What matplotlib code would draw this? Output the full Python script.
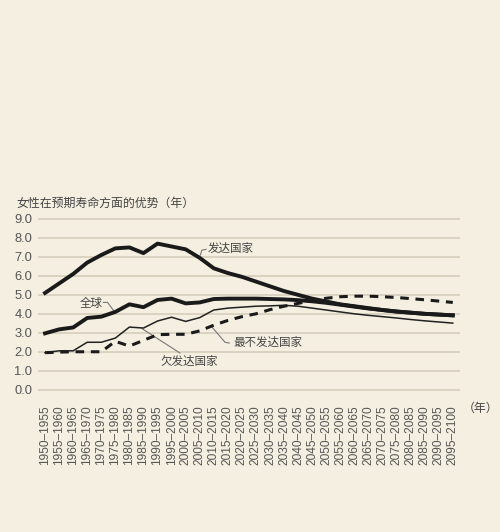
import numpy as np
import matplotlib.pyplot as plt

plt.rcParams['font.family'] = ['Liberation Sans', 'Noto Sans CJK SC', 'DejaVu Sans']

# 时间段
periods = [f"{y}–{y + 5}" for y in range(1950, 2100, 5)]

# 女性预期寿命优势（年）
developed = [5.1, 5.6, 6.1, 6.7, 7.1, 7.45, 7.5, 7.2, 7.7, 7.55,
             7.4, 6.95, 6.4, 6.15, 5.95, 5.7, 5.45, 5.2, 5.0, 4.8,
             4.65, 4.5, 4.4, 4.3, 4.2, 4.12, 4.06, 4.0, 3.96, 3.92]
world = [2.97, 3.18, 3.28, 3.78, 3.85, 4.1, 4.5, 4.35, 4.73, 4.8,
         4.55, 4.6, 4.78, 4.8, 4.8, 4.8, 4.78, 4.76, 4.72, 4.66,
         4.58, 4.48, 4.38, 4.28, 4.2, 4.12, 4.06, 4.0, 3.96, 3.92]
less_dev = [1.95, 2.05, 2.05, 2.5, 2.5, 2.72, 3.3, 3.25, 3.62, 3.82,
            3.6, 3.8, 4.2, 4.3, 4.35, 4.4, 4.42, 4.45, 4.4, 4.3,
            4.2, 4.1, 4.0, 3.92, 3.85, 3.78, 3.7, 3.63, 3.57, 3.51]
least_dev = [1.95, 1.98, 2.0, 2.0, 2.0, 2.55, 2.3, 2.6, 2.9, 2.92,
             2.92, 3.1, 3.4, 3.65, 3.85, 4.0, 4.22, 4.4, 4.55, 4.7,
             4.82, 4.9, 4.93, 4.93, 4.9, 4.86, 4.8, 4.74, 4.67, 4.6]

bg = '#f4efe0'
fig = plt.figure(figsize=(5, 5.32), dpi=100, facecolor=bg)
ax = fig.add_axes([0.076, 0.2568, 0.8436, 0.3423])
ax.set_facecolor(bg)

x = np.arange(len(periods))

ax.plot(x, less_dev, color='#222222', lw=1.1, zorder=3)
ax.plot(x, least_dev, color='#1a1a1a', lw=2.2, dashes=(2.8, 2.2), zorder=3)
ax.plot(x, world, color='#1a1a1a', lw=2.8, zorder=4)
ax.plot(x, developed, color='#1a1a1a', lw=2.8, zorder=4)

ax.set_xlim(-0.5, 29.5)
ax.set_ylim(-0.3, 9.3)
ax.set_yticks(np.arange(0, 10, 1))
ax.set_yticklabels([f"{v:.1f}" for v in range(10)])
ax.set_xticks(x)
ax.set_xticklabels(periods, rotation=90)
ax.tick_params(axis='y', length=0, pad=4, labelsize=9.3, colors='#555555')
ax.tick_params(axis='x', length=0, pad=7, labelsize=8.6, colors='#555555')
ax.grid(axis='y', color='#d8d1bf', lw=1.3)
ax.set_axisbelow(True)
for s in ax.spines.values():
    s.set_visible(False)

# 标题和单位
fig.text(16 / 500, 1 - 204 / 532, '女性在预期寿命方面的优势（年）', fontsize=8.6,
         color='#444444', va='center', ha='left')
fig.text(463 / 500, 1 - 409 / 532, '（年）', fontsize=8.6,
         color='#444444', va='center', ha='left')

# 系列标注
lab = dict(fontsize=8.3, color='#444444', va='center')
lead = dict(color='#777777', lw=0.8)
ax.text(11.6, 7.4, '发达国家', ha='left', **lab)
ax.plot([11.45, 11.15, 11.05], [7.4, 7.35, 7.1], **lead)
ax.text(2.5, 4.5, '全球', ha='left', **lab)
ax.plot([4.15, 4.45, 4.9], [4.6, 4.6, 4.15], **lead)
ax.text(10.28, 1.48, '欠发达国家', ha='center', **lab)
ax.plot([6.9, 9.6], [3.22, 1.93], **lead)
ax.text(13.37, 2.46, '最不发达国家', ha='left', **lab)
ax.plot([11.88, 12.8, 13.1], [3.3, 2.5, 2.46], **lead)

fig.savefig('out.png', dpi=100, facecolor=bg)
